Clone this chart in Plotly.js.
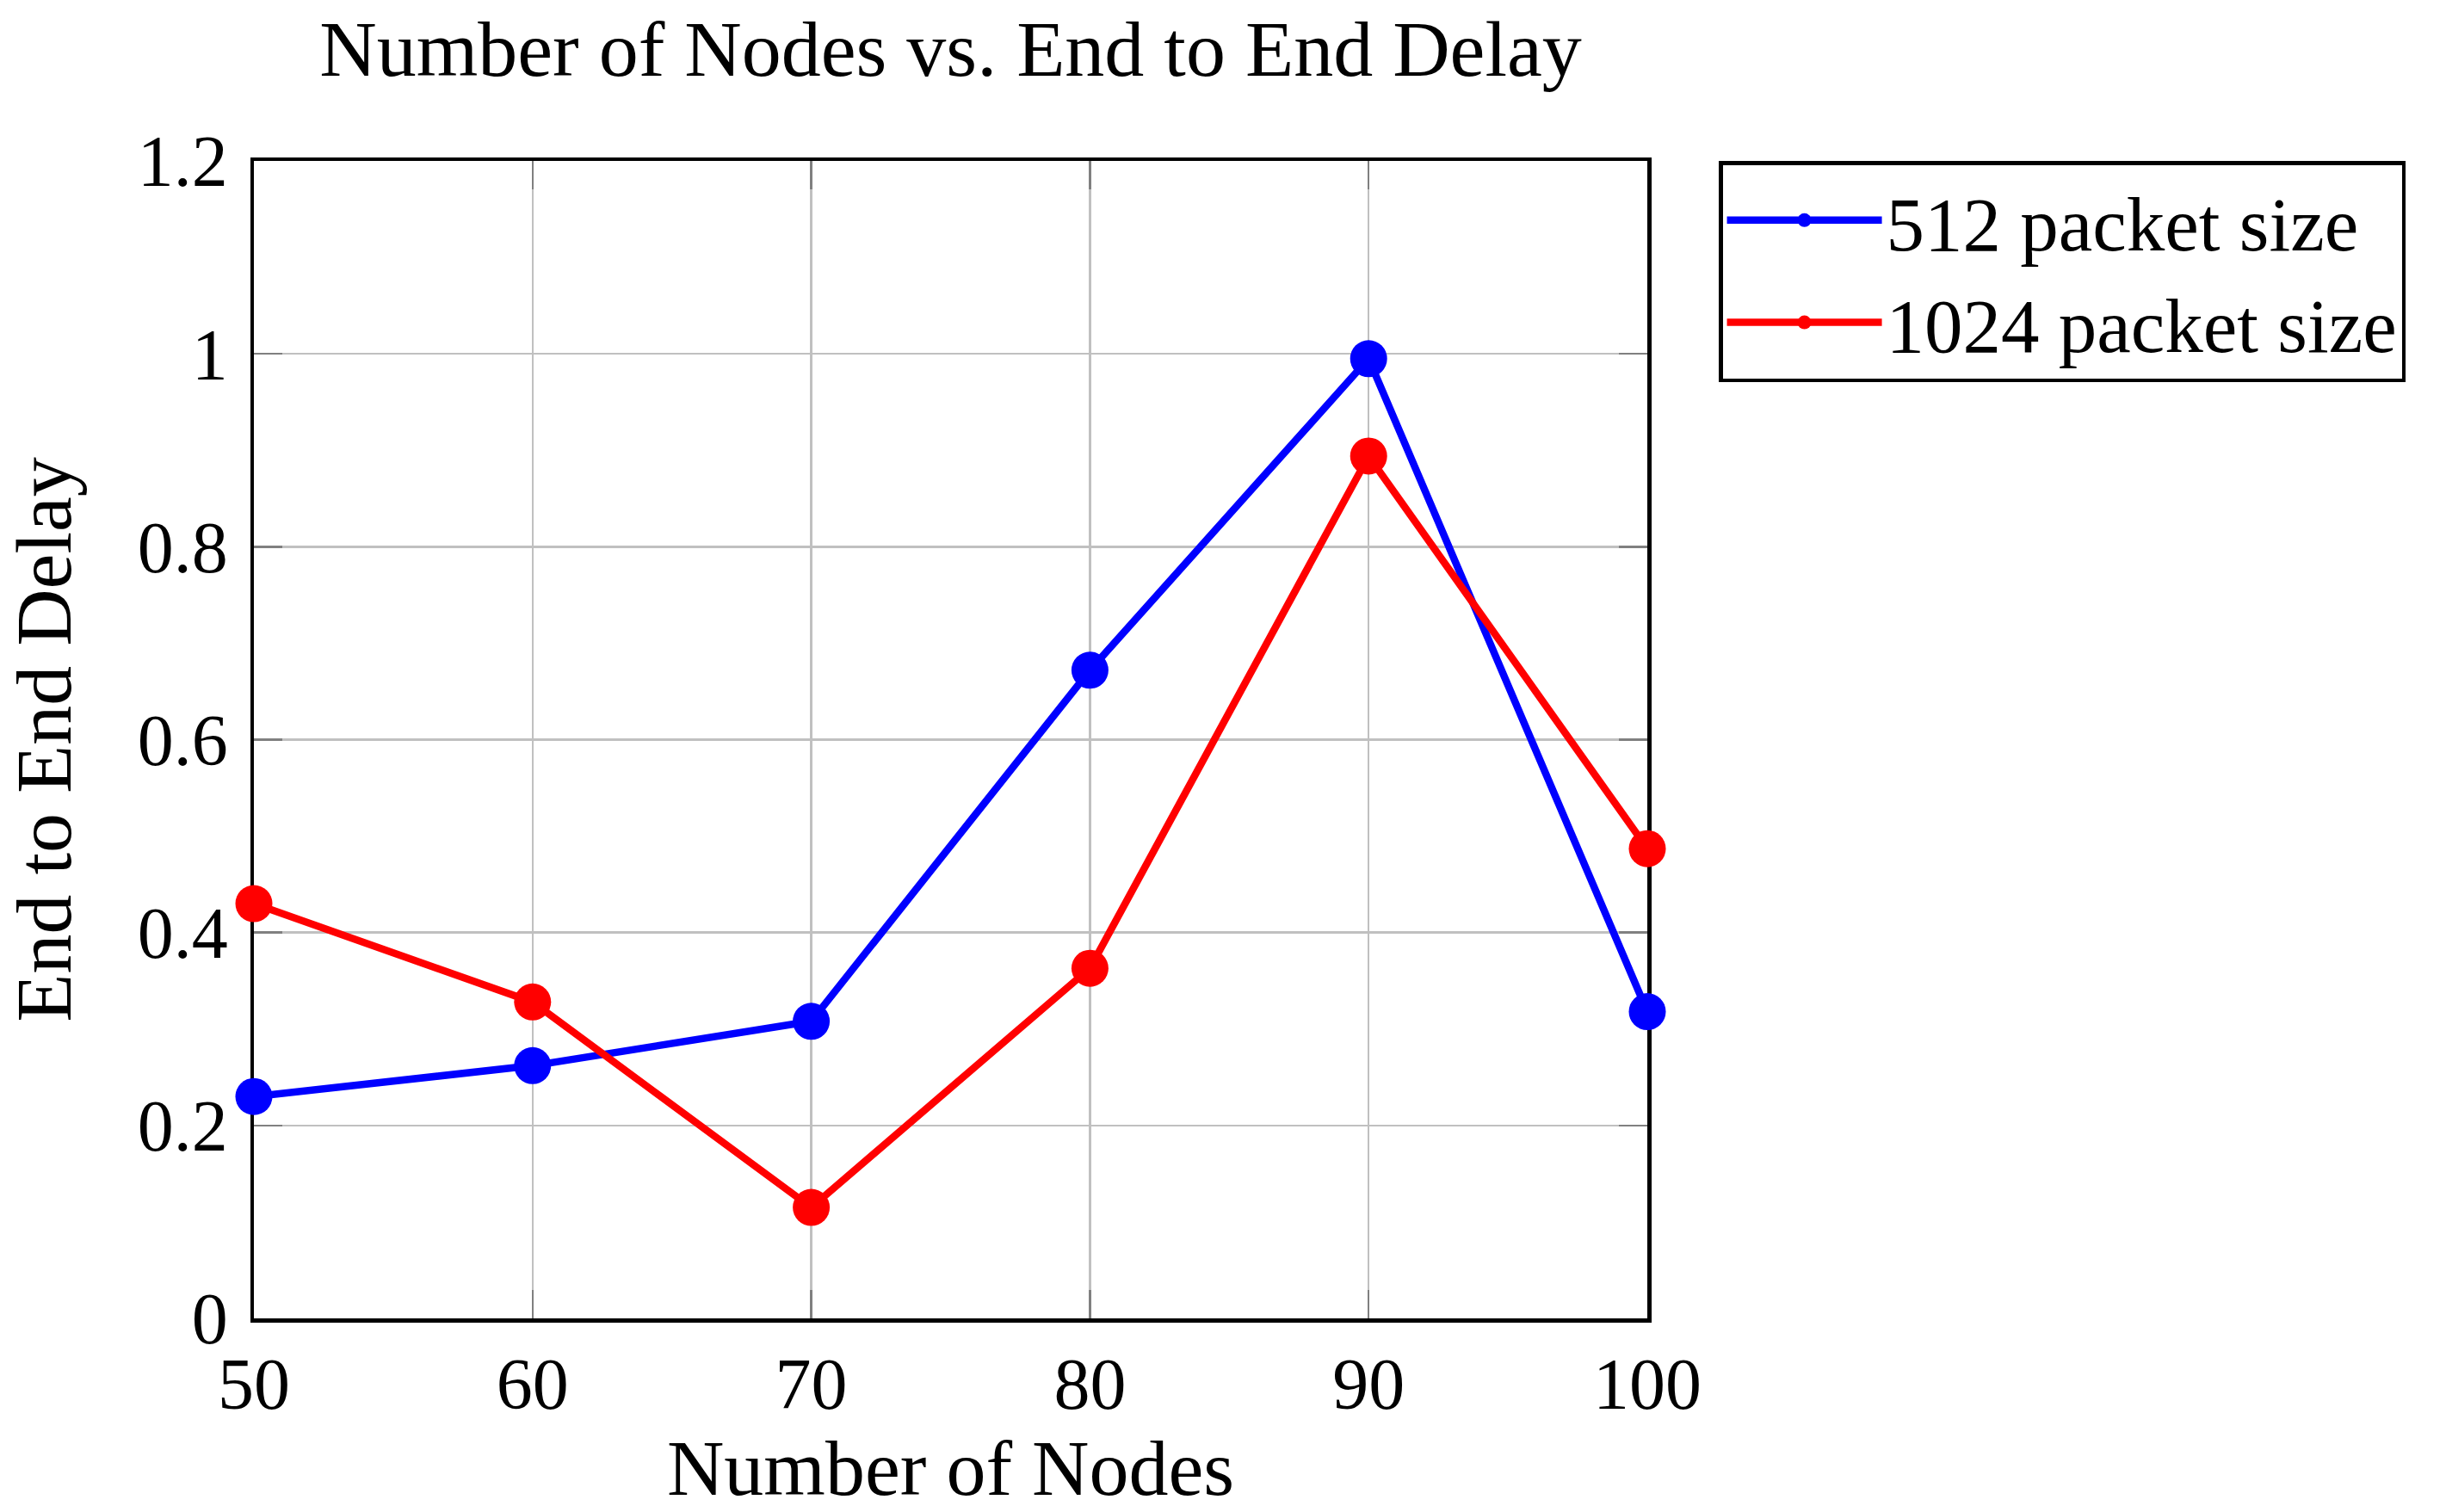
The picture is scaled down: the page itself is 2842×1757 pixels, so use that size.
<!DOCTYPE html>
<html>
<head>
<meta charset="utf-8">
<script src="https://cdn.plot.ly/plotly-3.0.1.min.js"></script>
<style>html,body{margin:0;padding:0;background:#fff;}#chart{width:2842px;height:1757px;}</style>
</head>
<body>
<div id="chart"></div>
<script>
const nodes = [50, 60, 70, 80, 90, 100];
const delay512 = [0.23, 0.262, 0.308, 0.672, 0.995, 0.318];
const delay1024 = [0.43, 0.328, 0.115, 0.363, 0.894, 0.487];
const seriesNames = ['512 packet size', '1024 packet size'];
const seriesColors = ['#0000ff', '#ff0000'];
const xTicks = [50, 60, 70, 80, 90, 100];
const yTicks = [0, 0.2, 0.4, 0.6, 0.8, 1, 1.2];

const FONT = 'Liberation Serif, Times New Roman, serif';

function series(y, i) {
  return {
    x: nodes, y: y, name: seriesNames[i], type: 'scatter', mode: 'lines+markers',
    line: {color: seriesColors[i], width: 8.5},
    marker: {color: seriesColors[i], size: 43},
    cliponaxis: false
  };
}
const data = [series(delay512, 0), series(delay1024, 1)];

const axisCommon = {
  showline: true, linecolor: '#000', linewidth: 4.5, mirror: 'ticks',
  showgrid: true, gridcolor: '#c0c0c0', gridwidth: 2.5,
  ticks: 'inside', ticklen: 33, tickwidth: 2.5, tickcolor: '#808080',
  zeroline: false, layer: 'below traces',
  tickfont: {family: FONT, size: 84, color: '#000'}
};

const layout = {
  width: 2842, height: 1757,
  margin: {l: 295, r: 928, t: 187, b: 225, pad: 0},
  paper_bgcolor: '#fff', plot_bgcolor: '#fff',
  font: {family: FONT, color: '#000'},
  title: {text: 'Number of Nodes vs. End to End Delay', font: {family: FONT, size: 92, color: '#000'},
          xref: 'paper', x: 0.5, xanchor: 'center', yref: 'container', y: 0.968, yanchor: 'middle'},
  xaxis: Object.assign({}, axisCommon, {
    range: [50, 100], tickmode: 'array', tickvals: xTicks, ticktext: xTicks.map(String),
    ticklabelstandoff: 0,
    title: {text: 'Number of Nodes', font: {family: FONT, size: 92, color: '#000'}, standoff: 45}
  }),
  yaxis: Object.assign({}, axisCommon, {
    range: [0, 1.2], tickmode: 'array', tickvals: yTicks, ticktext: yTicks.map(String),
    ticklabelstandoff: 9,
    title: {text: 'End to End Delay', font: {family: FONT, size: 92, color: '#000'}, standoff: 50}
  }),
  showlegend: true,
  legend: {
    x: 1.0513, xanchor: 'left', y: 1, yanchor: 'top',
    bordercolor: '#000', borderwidth: 4.5, bgcolor: '#fff',
    font: {family: FONT, size: 89, color: '#000'},
    itemwidth: 180, tracegroupgap: 0
  }
};

Plotly.newPlot('chart', data, layout, {staticPlot: true, displayModeBar: false});
</script>
</body>
</html>
